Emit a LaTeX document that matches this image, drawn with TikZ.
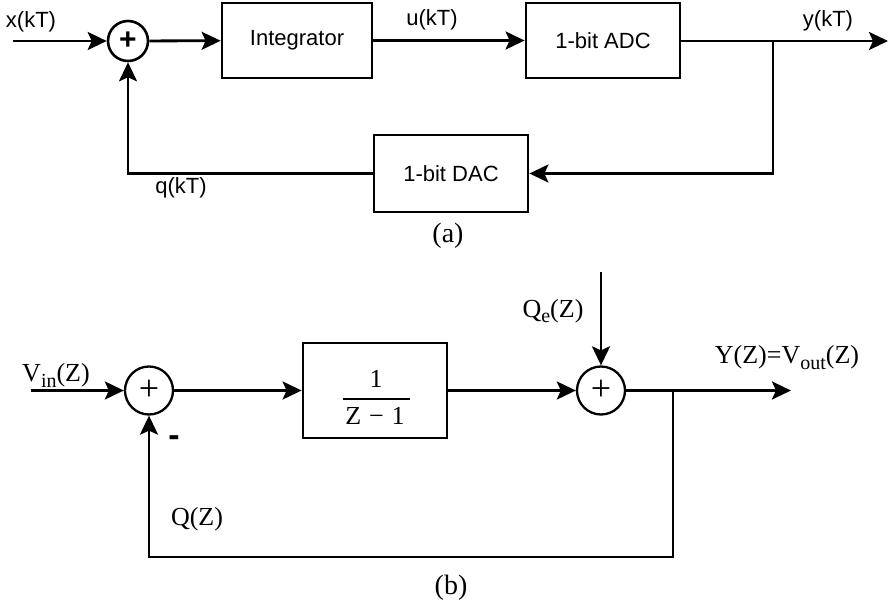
\documentclass[tikz,border=0pt]{standalone}
\usepackage{fontspec}
\setmainfont{Liberation Serif}
\setsansfont{Liberation Sans}
\usetikzlibrary{arrows.meta}
\begin{document}
\begin{tikzpicture}[x=1pt,y=-1pt,line width=2.8pt,
  arr/.style={-{Stealth[length=19pt,width=18pt,inset=4pt]}},
  blk/.style={draw,line width=2.8pt,inner sep=0pt},
  sumA/.style={draw,circle,line width=2.6pt,minimum size=40pt,inner sep=0pt,font=\fontsize{30}{30}\selectfont\sffamily\bfseries},
  sumB/.style={draw,circle,line width=2.3pt,minimum size=48pt,inner sep=0pt,font=\fontsize{36}{36}\selectfont\rmfamily},
  sa/.style={font=\fontsize{22}{26}\selectfont\sffamily,inner sep=0pt},
  sr/.style={font=\fontsize{26}{30}\selectfont\rmfamily,inner sep=0pt},
  figlabel/.style={font=\fontsize{28}{32}\selectfont\rmfamily,inner sep=0pt}]
\useasboundingbox (0,0) rectangle (889,604);

% ---------- (a) ----------
\coordinate (xin) at (13,41);
\node[sumA] (s1) at (128,41) {+};
\node[blk,sa,minimum width=150pt,minimum height=75pt] (int) at (297,40.5) {Integrator};
\node[blk,sa,minimum width=154pt,minimum height=75pt] (adc) at (603,40.5) {1-bit ADC};
\node[blk,sa,minimum width=154pt,minimum height=77pt] (dac) at (451,173.5) {1-bit DAC};
\coordinate (yout) at (888,41);
\coordinate (j1) at (773,41);
\coordinate (c1) at (773,173.5);
\coordinate (c2) at (128,173.5);

\draw[arr] (xin) -- (s1);
\draw[arr] (s1) -- (int);
\draw[arr] (int) -- (adc);
\draw[arr] (adc.east |- j1) -- (yout);
\draw[arr] (j1) -- (c1) -- (dac);
\draw[arr] (dac) -- (c2) -- (s1);

\node[sa,anchor=base] (lx) at (31,28) {x(kT)};
\node[sa,anchor=base] (lu) at (432,26) {u(kT)};
\node[sa,anchor=base] (ly) at (828,27) {y(kT)};
\node[sa,anchor=base] (lq) at (181,194) {q(kT)};
\node[figlabel,anchor=base] (la) at (448,243) {(a)};

% ---------- (b) ----------
\coordinate (vin) at (31,390.5);
\node[sumB] (s2) at (149,390.5) {+};
\node[blk,minimum width=144pt,minimum height=95pt] (tf) at (375,390.5) {};
\node[sr,anchor=base] (num) at (376,387) {1};
\node[sr,anchor=base] (den) at (375,424) {Z\hspace{0.3em}−\hspace{0.3em}1};
\draw[line width=2.6pt] (343,399) -- (410,399);
\node[sumB] (s3) at (601,390.5) {+};
\coordinate (qe) at (601,272);
\coordinate (j2) at (673,390.5);
\coordinate (vout) at (791,390.5);
\coordinate (c3) at (673,557);
\coordinate (c4) at (149,557);

\draw[arr] (vin) -- (s2);
\draw[arr] (s2) -- (tf);
\draw[arr] (tf) -- (s3);
\draw[arr] (qe) -- (s3);
\draw[arr] (s3) -- (vout);
\draw[arr] (j2) -- (c3) -- (c4) -- (s2);

\node[sr,anchor=base] (lvin) at (56,381) {V\raisebox{-6pt}{\fontsize{20}{20}\selectfont in}(Z)};
\node[sr,anchor=base] (lqe) at (553,317) {Q\raisebox{-5pt}{\fontsize{20}{20}\selectfont e}(Z)};
\node[sr,anchor=base] (lyz) at (787,363) {Y(Z)=V\raisebox{-6pt}{\fontsize{20}{20}\selectfont out}(Z)};
\node[sr,anchor=base] (lqz) at (197,525) {Q(Z)};
\node[font=\fontsize{34}{34}\selectfont\sffamily\bfseries,inner sep=0pt] (minus) at (174,441) {-};
\node[figlabel,anchor=base] (lb) at (451,594) {(b)};
\end{tikzpicture}
\end{document}
